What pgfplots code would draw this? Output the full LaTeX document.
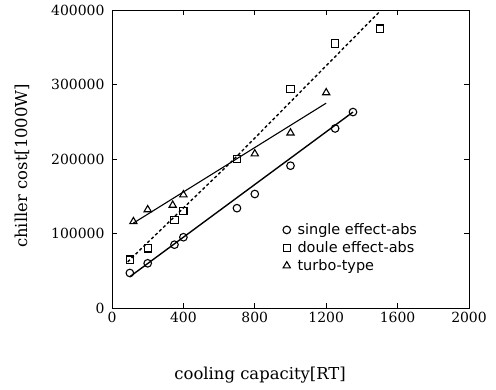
\documentclass[border=0pt]{standalone}
\usepackage{fontspec}
\setmainfont{DejaVu Serif}
\newfontfamily\legfont{DejaVu Sans}
\usepackage{pgfplots}
\pgfplotsset{compat=1.18}
\begin{document}
\begin{tikzpicture}
\begin{axis}[
  scale only axis,
  width=357bp, height=298bp,
  xmin=0, xmax=2000, ymin=0, ymax=400000,
  xtick={0,400,800,1200,1600,2000},
  xticklabels={0,400,800,1200,1600,2000},
  ytick={0,100000,200000,300000,400000},
  yticklabels={0,100000,200000,300000,400000},
  scaled ticks=false,
  tick label style={font=\fontsize{14}{16}\selectfont},
  label style={font=\fontsize{16.5}{18}\selectfont},
  xlabel={cooling capacity[RT]},
  ylabel={chiller cost[1000W]},
  xlabel style={at={(axis description cs:0.415,-0.225)}, anchor=center},
  ylabel style={at={(axis description cs:-0.252,0.477)}, anchor=center, rotate=0},
  yticklabel style={xshift=-4bp},
  xticklabel style={yshift=-1bp},
  axis line style={line width=1pt},
  major tick length=5bp,
  tick style={line width=0.8pt, black},
  legend style={draw=none, fill=none, at={(axis description cs:0.47,0.297)}, anchor=north west,
    font=\legfont\fontsize{14.5}{16}\selectfont, row sep=1.5pt, column sep=5bp},
  legend cell align=left,
  clip=false,
]
\coordinate (bl) at (rel axis cs:0,0);
\addplot[only marks, mark=o, mark size=3.8bp, mark options={line width=1.1pt}] coordinates {
(100,47000) (200,60000) (350,85000) (400,95000) (700,134000) (800,153000) (1000,191000) (1250,241000) (1350,263000)};
\addlegendentry{single effect-abs}
\addplot[only marks, mark=square, mark size=3.6bp, mark options={line width=1.1pt}] coordinates {
(100,65000) (200,80000) (350,118000) (400,130000) (700,200000) (1000,294000) (1250,355000) (1500,375000)};
\addlegendentry{doule effect-abs}
\addplot[only marks, mark=triangle, mark size=4.2bp, mark options={line width=1.1pt}] coordinates {
(120,116000) (200,132000) (340,138000) (400,152000) (800,207000) (1000,235000) (1200,289000)};
\addlegendentry{turbo-type}
\addplot[forget plot, line width=1.4pt] coordinates {(100,42000) (1350,263000)};
\addplot[forget plot, line width=1.1pt] coordinates {(120,114000) (1200,275000)};
\addplot[forget plot, line width=1.4pt, dash pattern=on 3pt off 2.5pt] coordinates {(88,62000) (680,199000) (1500,398000)};
\end{axis}
\path (bl) ++(-112bp,-82bp) rectangle ++(496bp,390bp);
\end{tikzpicture}
\end{document}
